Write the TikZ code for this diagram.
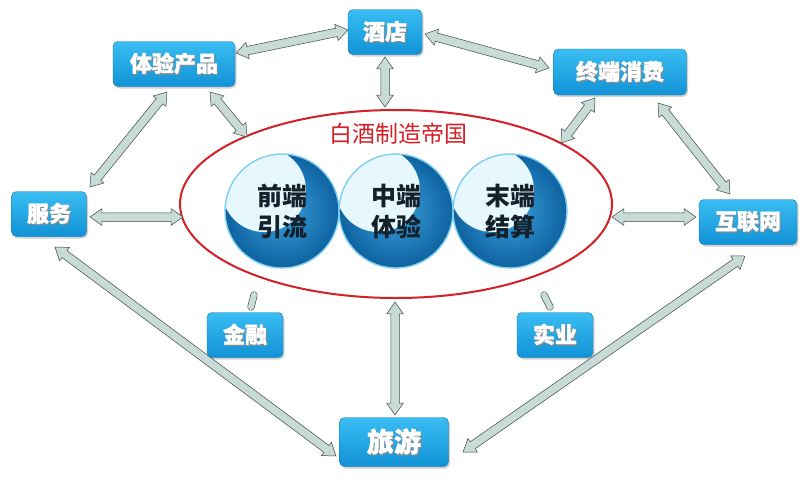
\documentclass[tikz,border=0pt]{standalone}
\usepackage{fontspec}
\newfontfamily\cjk{Noto Sans CJK SC}[BoldFeatures={FakeBold=1.5}]
\newfontfamily\cjkm{Noto Sans CJK SC}
\usetikzlibrary{shapes.arrows,shapes.geometric,shadows,calc}
\definecolor{boxtop}{HTML}{3ABDF2}
\definecolor{boxbot}{HTML}{1192D6}
\definecolor{arrfill}{HTML}{C8DBD6}
\definecolor{arrdraw}{HTML}{3C4B49}
\definecolor{ered}{HTML}{D42027}
\definecolor{ballin}{HTML}{3AA2DD}
\definecolor{ballout}{HTML}{0E62A0}
\definecolor{ballrim}{HTML}{7FCFF2}
\definecolor{balltext}{HTML}{14212B}
\newcommand\fatarr[2]{\path let \p1=($(#2)-(#1)$), \n1={veclen(\x1,\y1)}, \n2={atan2(\y1,\x1)} in node[farr, minimum height=\n1, rotate=\n2] at ($(#1)!0.5!(#2)$) {};}
\newcommand\shtext[1]{\makebox[0pt][l]{\hspace{1pt}\raisebox{-1.2pt}{\textcolor{black!45}{#1}}}#1}
\begin{document}
\begin{tikzpicture}[x=1pt,y=-1pt,
  box/.style={rounded corners=5pt, top color=boxtop, bottom color=boxbot, draw=boxbot!80!black, line width=0.4pt, text=white, font=\cjk\bfseries\fontsize{22}{22}\selectfont, inner sep=0pt, drop shadow={opacity=0.35, shadow xshift=1.5pt, shadow yshift=-2pt}},
  farr/.style={double arrow, draw=arrdraw, fill=arrfill, line width=0.5pt, inner sep=4pt, minimum width=0pt, double arrow head extend=4pt, double arrow tip angle=70},
  caps/.style={double=arrfill, double distance=6pt, line width=0.6pt, draw=arrdraw, line cap=round},
  ball/.style={circle, minimum size=114pt, inner sep=0pt, draw=ballrim, line width=1.4pt, inner color=ballin, outer color=ballout, text=balltext, align=center, font=\cjkm\bfseries\fontsize{25}{31}\selectfont,
    path picture={\fill[white!90!cyan] ($(path picture bounding box.center)+(-18,-21)$) circle (42pt);}}
]
\useasboundingbox (0,0) rectangle (807,485);
\fill[white] (0,0) rectangle (807,485);

% central ellipse
\node[draw=ered, line width=2pt, ellipse, minimum width=432pt, minimum height=188pt, inner sep=0pt] (emp) at (396,204) {};
\node[text=ered, font=\cjkm\fontsize{23}{23}\selectfont] (title) at (398,134) {白酒制造帝国};

% spheres
\node[ball] (s1) at (282,211) {前端\\引流};
\node[ball] (s2) at (396,211) {中端\\体验};
\node[ball] (s3) at (510,211) {末端\\结算};

% boxes
\node[box, minimum width=122pt, minimum height=45pt] (ty) at (174,64) {\shtext{体验产品}};
\node[box, minimum width=74pt, minimum height=45pt] (jd) at (385,32) {\shtext{酒店}};
\node[box, minimum width=133pt, minimum height=46pt] (zd) at (620,72) {\shtext{终端消费}};
\node[box, minimum width=75pt, minimum height=45pt] (fw) at (49,214) {\shtext{服务}};
\node[box, minimum width=98pt, minimum height=45pt] (hl) at (748,222) {\shtext{互联网}};
\node[box, minimum width=76pt, minimum height=45pt] (jr) at (245,335) {\shtext{金融}};
\node[box, minimum width=76pt, minimum height=45pt] (sy) at (555,335) {\shtext{实业}};
\node[box, minimum width=109pt, minimum height=49pt, font=\cjk\bfseries\fontsize{27}{27}\selectfont] (ly) at (394,442) {\shtext{旅游}};

% connector end points
\coordinate (a1s) at (236,53);  \coordinate (a1e) at (348,30);
\coordinate (a2s) at (385,57);  \coordinate (a2e) at (385,107);
\coordinate (a3s) at (210,92);  \coordinate (a3e) at (247,137);
\coordinate (a4s) at (167,92);  \coordinate (a4e) at (90,187);
\coordinate (a5s) at (425,34);  \coordinate (a5e) at (549,68);
\coordinate (a6s) at (595,98);  \coordinate (a6e) at (561,143);
\coordinate (a7s) at (658,103); \coordinate (a7e) at (730,194);
\coordinate (a8s) at (90,217);  \coordinate (a8e) at (183,217);
\coordinate (a9s) at (612,217); \coordinate (a9e) at (696,217);
\coordinate (a10s) at (55,247); \coordinate (a10e) at (336,456);
\coordinate (a11s) at (463,452); \coordinate (a11e) at (745,256);
\coordinate (a12s) at (395,302); \coordinate (a12e) at (395,415);

\fatarr{a1s}{a1e}
\fatarr{a2s}{a2e}
\fatarr{a3s}{a3e}
\fatarr{a4s}{a4e}
\fatarr{a5s}{a5e}
\fatarr{a6s}{a6e}
\fatarr{a7s}{a7e}
\fatarr{a8s}{a8e}
\fatarr{a9s}{a9e}
\fatarr{a10s}{a10e}
\fatarr{a11s}{a11e}
\fatarr{a12s}{a12e}

% short capsule links
\coordinate (c1s) at (254,295); \coordinate (c1e) at (251,307);
\coordinate (c2s) at (544,295); \coordinate (c2e) at (550,307);
\draw[caps] (c1s) -- (c1e);
\draw[caps] (c2s) -- (c2e);
\end{tikzpicture}
\end{document}
